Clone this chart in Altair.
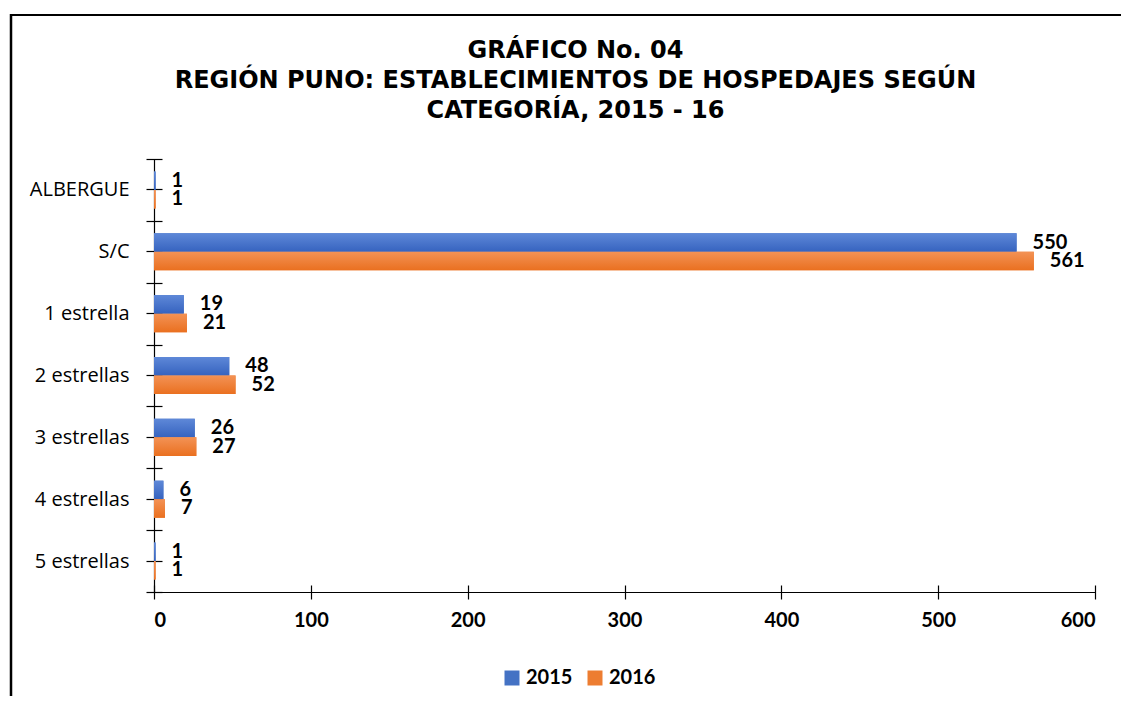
import altair as alt
import pandas as pd

categories = ["ALBERGUE", "S/C", "1 estrella", "2 estrellas", "3 estrellas", "4 estrellas", "5 estrellas"]
years = ["2015", "2016"]
v2015 = [1, 550, 19, 48, 26, 6, 1]
v2016 = [1, 561, 21, 52, 27, 7, 1]
x_ticks = [0, 100, 200, 300, 400, 500, 600]
title_lines = ["GRÁFICO No. 04",
               "REGIÓN PUNO: ESTABLECIMIENTOS DE HOSPEDAJES SEGÚN",
               "CATEGORÍA, 2015 - 16"]
colors = ["#4472C4", "#ED7D31"]

rows = []
for c, a, b in zip(categories, v2015, v2016):
    rows.append({"cat": c, "year": years[0], "value": a})
    rows.append({"cat": c, "year": years[1], "value": b})
df = pd.DataFrame(rows)

W, H = 1111, 682
X0, X1 = 144, 1085
Y0, Y1 = 145, 578
FONT = "Lato"
CAT_FONT = "Open Sans"

xscale = alt.Scale(domain=[0, 600], range=[X0, X1], nice=False, zero=True)
yscale = alt.Scale(domain=categories, range=[Y0, Y1], paddingInner=0, paddingOuter=0)
yoff = alt.YOffset("year:N", scale=alt.Scale(domain=years, paddingInner=0, paddingOuter=0.67))

def grad(top, bottom):
    return alt.Gradient(gradient="linear",
                        stops=[alt.GradientStop(color=top, offset=0),
                               alt.GradientStop(color=bottom, offset=1)],
                        x1=0, x2=0, y1=0, y2=1)

base = alt.Chart(df)

bars = base.mark_bar().encode(
    x=alt.X("value:Q", scale=xscale,
            axis=alt.Axis(values=x_ticks, orient="bottom", offset=Y1 - H, ticks=False,
                          domain=True, grid=False, title=None, labelPadding=18,
                          labelFont=FONT, labelFontSize=20, labelFontWeight="bold")),
    y=alt.Y("cat:N", scale=yscale,
            axis=alt.Axis(orient="left", offset=-(X0 + 8), tickSize=16, tickBand="extent",
                          domain=False, grid=False, title=None, labelPadding=17,
                          labelFont=CAT_FONT, labelFontSize=20)),
    yOffset=yoff,
    color=alt.Color("year:N", scale=alt.Scale(domain=years, range=colors),
                    legend=alt.Legend(orient="none", legendX=492, legendY=654,
                                      direction="horizontal", title=None,
                                      symbolType="square", symbolSize=225,
                                      symbolStrokeWidth=0, labelFont=FONT,
                                      labelFontSize=20, labelFontWeight="bold",
                                      labelColor="black", columnPadding=12,
                                      labelOffset=4)),
)

g2015 = base.transform_filter(alt.datum.year == years[0]).mark_bar(
    fill=grad("#5E88D8", "#3663BF")).encode(
    x=alt.X("value:Q", scale=xscale, axis=None),
    y=alt.Y("cat:N", scale=yscale,
            axis=alt.Axis(orient="left", offset=-X0, domain=True, ticks=False,
                          labels=False, grid=False, title=None)),
    yOffset=yoff,
)

g2016 = base.transform_filter(alt.datum.year == years[1]).mark_bar(
    fill=grad("#F39255", "#EA7020")).encode(
    x=alt.X("value:Q", scale=xscale, axis=None),
    y=alt.Y("cat:N", scale=yscale,
            axis=alt.Axis(orient="left", offset=-(X0 + 8), tickSize=16, domain=False,
                          labels=False, grid=False, title=None)),
    yOffset=yoff,
)

labels = base.mark_text(align="left", baseline="middle", dx=16, font=FONT,
                        fontSize=20, fontWeight="bold", color="black").encode(
    x=alt.X("value:Q", scale=xscale,
            axis=alt.Axis(values=x_ticks, orient="bottom", offset=(Y1 - 7) - H, tickSize=14,
                          domain=False, labels=False, grid=False, title=None)),
    y=alt.Y("cat:N", scale=yscale, axis=None),
    yOffset=yoff,
    text="value:Q",
)

frame_data = alt.Data(values=[{"f": 1}])
left_line = alt.Chart(frame_data).mark_rule(color="black", strokeWidth=2.5).encode(
    x=alt.value(1), y=alt.value(0), y2=alt.value(H + 10))
top_line = alt.Chart(frame_data).mark_rule(color="black", strokeWidth=2).encode(
    x=alt.value(0), x2=alt.value(W + 10), y=alt.value(1))

chart = alt.layer(bars, g2015, g2016, labels, left_line, top_line).resolve_axis(
    x="independent", y="independent"
).properties(
    width=W, height=H, autosize="none",
    padding={"left": 2, "top": 6, "right": 0, "bottom": 0},
    title=alt.Title(title_lines, font="DejaVu Sans", fontSize=24, fontWeight="bold",
                    lineHeight=30, anchor="middle", offset=-119, dx=10, color="black"),
).configure_view(stroke=None).configure_axis(
    domainColor="black", tickColor="black", labelColor="black", domainWidth=1.2, tickWidth=1.2
)

chart.save("out.html", embed_options={"renderer": "svg", "actions": False})
